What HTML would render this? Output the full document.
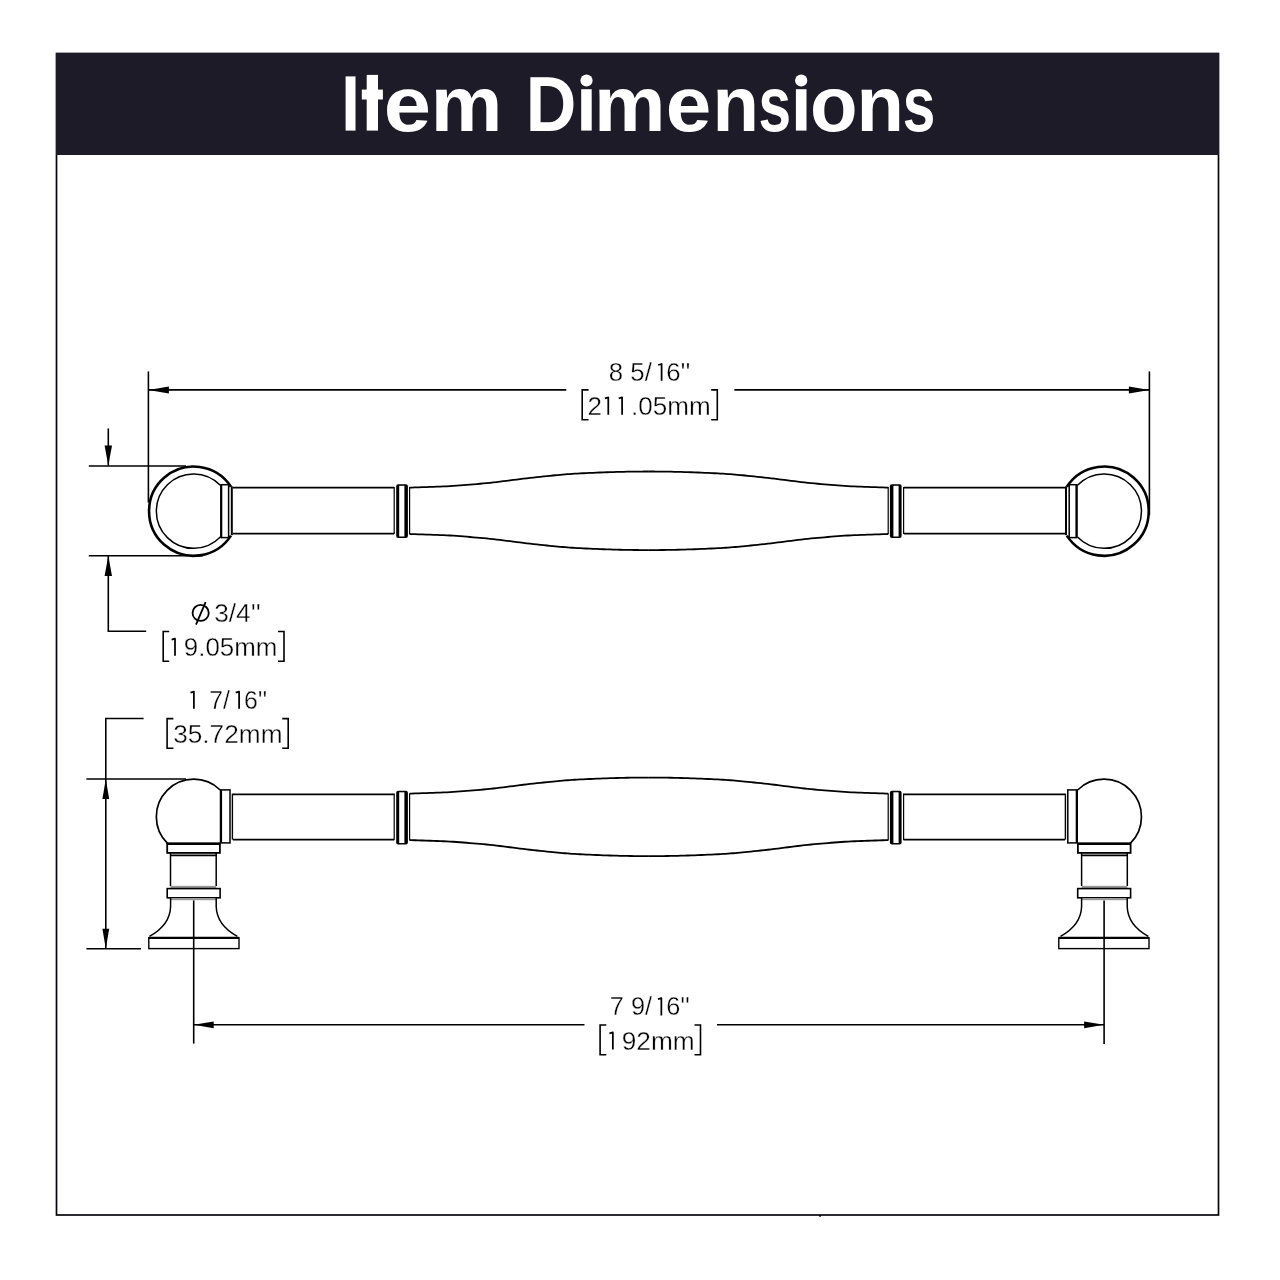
<!DOCTYPE html>
<html><head><meta charset="utf-8">
<style>
html,body{margin:0;padding:0;background:#fff;width:1280px;height:1280px;overflow:hidden}
svg{display:block;will-change:transform}
text{font-family:"Liberation Sans",sans-serif}
</style></head>
<body>
<svg width="1280" height="1280" viewBox="0 0 1280 1280">
<rect x="0" y="0" width="1280" height="1280" fill="#fff"/>
<!-- frame -->
<rect x="56.5" y="53.5" width="1162" height="1161.5" fill="none" stroke="#06060e" stroke-width="1.7"/>
<rect x="56" y="53" width="1163" height="102" fill="#1c1b27"/>
<g fill="#fff" font-weight="bold" font-size="78.6">
<rect x="345.6" y="76.4" width="9.9" height="54.2"/>
<rect x="366.7" y="74.9" width="11.3" height="55.7"/><rect x="361.8" y="89.6" width="21.1" height="9.9"/>
<text x="383.70" y="130.7" textLength="47.28" lengthAdjust="spacingAndGlyphs">e</text>
<text x="430.82" y="130.7" textLength="71.60" lengthAdjust="spacingAndGlyphs">m</text>
<text x="525.73" y="130.7" textLength="50.62" lengthAdjust="spacingAndGlyphs">D</text>
<rect x="581.2" y="89.2" width="10.5" height="41.4"/><circle cx="586.5" cy="80.5" r="6.1"/>
<text x="594.03" y="130.7" textLength="71.49" lengthAdjust="spacingAndGlyphs">m</text>
<text x="665.83" y="130.7" textLength="45.54" lengthAdjust="spacingAndGlyphs">e</text>
<text x="712.43" y="130.7" textLength="46.45" lengthAdjust="spacingAndGlyphs">n</text>
<text x="758.39" y="130.7" textLength="32.56" lengthAdjust="spacingAndGlyphs">s</text>
<rect x="795.9" y="89.2" width="10.6" height="41.4"/><circle cx="801.2" cy="80.5" r="6.1"/>
<text x="809.89" y="130.7" textLength="47.54" lengthAdjust="spacingAndGlyphs">o</text>
<text x="856.52" y="130.7" textLength="47.47" lengthAdjust="spacingAndGlyphs">n</text>
<text x="902.69" y="130.7" textLength="32.56" lengthAdjust="spacingAndGlyphs">s</text>
</g>

<g fill="none" stroke="#000" stroke-linecap="butt">
<defs>
<g id="tvhalf">
  <!-- outer circle arc -->
  <path d="M231,486.8 A44.6,44.6 0 1 0 231,535.6" stroke-width="2.6"/>
  <!-- inner circle arc -->
  <path d="M220.3,485.3 A37.2,37.2 0 1 0 220.3,537" stroke-width="1.5"/>
  <!-- collar -->
  <rect x="221.2" y="484.7" width="7.4" height="52.9" stroke-width="1.5"/>
  <line x1="221.2" y1="484.7" x2="221.2" y2="537.6" stroke-width="2.2"/>
  <line x1="231.8" y1="486.3" x2="231.8" y2="535.2" stroke-width="2"/>
  <!-- bar -->
  <line x1="232.8" y1="487.7" x2="394" y2="487.7" stroke-width="1.8"/>
  <line x1="232.8" y1="533.7" x2="394" y2="533.7" stroke-width="1.8"/>
  <!-- ring -->
  <line x1="394.2" y1="487" x2="394.2" y2="534" stroke-width="1.2"/>
  <rect x="396.2" y="484.3" width="11.7" height="53.7" rx="2" fill="#000" stroke="none"/>
  <rect x="399.2" y="485.8" width="5.2" height="50.7" fill="#fff" stroke="none"/>
  <line x1="409.6" y1="487" x2="409.6" y2="534" stroke-width="1.2"/>
  <!-- taper -->
  <path d="M409.5,487.60 L411.7,487.53 L414.8,487.42 L418.5,487.30 L422.4,487.17 L426.4,487.03 L430.0,486.90 L433.4,486.78 L436.7,486.67 L440.0,486.55 L443.4,486.42 L446.7,486.28 L450.0,486.10 L453.3,485.89 L456.7,485.66 L460.0,485.41 L463.3,485.15 L466.7,484.88 L470.0,484.60 L473.3,484.32 L476.7,484.04 L480.0,483.76 L483.3,483.46 L486.7,483.14 L490.0,482.80 L493.3,482.44 L496.7,482.05 L500.0,481.64 L503.3,481.23 L506.7,480.81 L510.0,480.40 L513.3,479.98 L516.7,479.56 L520.0,479.13 L523.3,478.71 L526.7,478.29 L530.0,477.90 L533.4,477.52 L536.9,477.14 L540.3,476.78 L543.7,476.43 L547.0,476.10 L550.0,475.80 L552.8,475.52 L555.4,475.27 L557.8,475.03 L560.2,474.81 L562.6,474.60 L565.0,474.40 L567.4,474.21 L569.8,474.03 L572.2,473.87 L574.6,473.71 L577.2,473.56 L580.0,473.40 L583.0,473.24 L586.3,473.08 L589.7,472.93 L593.1,472.78 L596.6,472.63 L600.0,472.50 L603.3,472.37 L606.7,472.25 L610.0,472.14 L613.3,472.03 L616.7,471.94 L620.0,471.85 L623.5,471.78 L627.1,471.71 L630.7,471.66 L634.2,471.62 L637.3,471.58 L640.0,471.55 L642.2,471.53 L644.1,471.51 L645.7,471.51 L647.0,471.50 L648.1,471.50 L648.9,471.50" stroke-width="1.8"/>
  <path d="M409.5,534.00 L411.7,534.08 L414.8,534.18 L418.5,534.30 L422.4,534.43 L426.4,534.57 L430.0,534.70 L433.4,534.82 L436.7,534.93 L440.0,535.05 L443.4,535.18 L446.7,535.33 L450.0,535.50 L453.3,535.71 L456.7,535.94 L460.0,536.19 L463.3,536.45 L466.7,536.72 L470.0,537.00 L473.3,537.28 L476.7,537.56 L480.0,537.84 L483.3,538.14 L486.7,538.46 L490.0,538.80 L493.3,539.16 L496.7,539.55 L500.0,539.96 L503.3,540.37 L506.7,540.79 L510.0,541.20 L513.3,541.62 L516.7,542.04 L520.0,542.47 L523.3,542.89 L526.7,543.31 L530.0,543.70 L533.4,544.08 L536.9,544.46 L540.3,544.82 L543.7,545.17 L547.0,545.50 L550.0,545.80 L552.8,546.08 L555.4,546.33 L557.8,546.57 L560.2,546.79 L562.6,547.00 L565.0,547.20 L567.4,547.39 L569.8,547.57 L572.2,547.73 L574.6,547.89 L577.2,548.04 L580.0,548.20 L583.0,548.36 L586.3,548.52 L589.7,548.67 L593.1,548.82 L596.6,548.97 L600.0,549.10 L603.3,549.23 L606.7,549.35 L610.0,549.46 L613.3,549.57 L616.7,549.66 L620.0,549.75 L623.5,549.82 L627.1,549.89 L630.7,549.94 L634.2,549.98 L637.3,550.02 L640.0,550.05 L642.2,550.07 L644.1,550.09 L645.7,550.09 L647.0,550.10 L648.1,550.10 L648.9,550.10" stroke-width="1.8"/>
</g>
<g id="svhalf">
  <!-- ball -->
  <path d="M220.2,790 A37.3,37.3 0 1 0 167.5,843.4" stroke-width="1.7"/>
  <!-- side collar -->
  <rect x="220.6" y="789.9" width="9.4" height="53" stroke-width="1.5"/>
  <line x1="221" y1="789.9" x2="221" y2="842.9" stroke-width="2.2"/>
  <line x1="232.4" y1="793.6" x2="232.4" y2="839.6" stroke-width="1.4"/>
  <!-- bar -->
  <line x1="232.8" y1="794.3" x2="394" y2="794.3" stroke-width="1.8"/>
  <line x1="232.8" y1="839.6" x2="394" y2="839.6" stroke-width="1.8"/>
  <!-- ring -->
  <line x1="394.2" y1="793.6" x2="394.2" y2="840.3" stroke-width="1.2"/>
  <rect x="396.2" y="790.8" width="11.7" height="53.7" rx="2" fill="#000" stroke="none"/>
  <rect x="399.2" y="792.3" width="5.2" height="50.7" fill="#fff" stroke="none"/>
  <line x1="409.6" y1="793.6" x2="409.6" y2="840.3" stroke-width="1.2"/>
  <!-- taper -->
  <path d="M409.5,793.65 L411.7,793.58 L414.8,793.47 L418.5,793.35 L422.4,793.22 L426.4,793.08 L430.0,792.95 L433.4,792.83 L436.7,792.72 L440.0,792.60 L443.4,792.47 L446.7,792.33 L450.0,792.15 L453.3,791.94 L456.7,791.71 L460.0,791.46 L463.3,791.20 L466.7,790.93 L470.0,790.65 L473.3,790.37 L476.7,790.09 L480.0,789.81 L483.3,789.51 L486.7,789.19 L490.0,788.85 L493.3,788.49 L496.7,788.10 L500.0,787.69 L503.3,787.28 L506.7,786.86 L510.0,786.45 L513.3,786.03 L516.7,785.61 L520.0,785.18 L523.3,784.76 L526.7,784.34 L530.0,783.95 L533.4,783.57 L536.9,783.19 L540.3,782.83 L543.7,782.48 L547.0,782.15 L550.0,781.85 L552.8,781.57 L555.4,781.32 L557.8,781.08 L560.2,780.86 L562.6,780.65 L565.0,780.45 L567.4,780.26 L569.8,780.08 L572.2,779.92 L574.6,779.76 L577.2,779.61 L580.0,779.45 L583.0,779.29 L586.3,779.13 L589.7,778.98 L593.1,778.83 L596.6,778.68 L600.0,778.55 L603.3,778.42 L606.7,778.30 L610.0,778.19 L613.3,778.08 L616.7,777.99 L620.0,777.90 L623.5,777.83 L627.1,777.76 L630.7,777.71 L634.2,777.67 L637.3,777.63 L640.0,777.60 L642.2,777.58 L644.1,777.56 L645.7,777.56 L647.0,777.55 L648.1,777.55 L648.9,777.55" stroke-width="1.8"/>
  <path d="M409.5,840.05 L411.7,840.12 L414.8,840.23 L418.5,840.35 L422.4,840.48 L426.4,840.62 L430.0,840.75 L433.4,840.87 L436.7,840.98 L440.0,841.10 L443.4,841.23 L446.7,841.38 L450.0,841.55 L453.3,841.76 L456.7,841.99 L460.0,842.24 L463.3,842.50 L466.7,842.77 L470.0,843.05 L473.3,843.33 L476.7,843.61 L480.0,843.89 L483.3,844.19 L486.7,844.51 L490.0,844.85 L493.3,845.21 L496.7,845.60 L500.0,846.01 L503.3,846.42 L506.7,846.84 L510.0,847.25 L513.3,847.67 L516.7,848.09 L520.0,848.52 L523.3,848.94 L526.7,849.36 L530.0,849.75 L533.4,850.13 L536.9,850.51 L540.3,850.87 L543.7,851.22 L547.0,851.55 L550.0,851.85 L552.8,852.13 L555.4,852.38 L557.8,852.62 L560.2,852.84 L562.6,853.05 L565.0,853.25 L567.4,853.44 L569.8,853.62 L572.2,853.78 L574.6,853.94 L577.2,854.09 L580.0,854.25 L583.0,854.41 L586.3,854.57 L589.7,854.72 L593.1,854.87 L596.6,855.02 L600.0,855.15 L603.3,855.28 L606.7,855.40 L610.0,855.51 L613.3,855.62 L616.7,855.71 L620.0,855.80 L623.5,855.87 L627.1,855.94 L630.7,855.99 L634.2,856.03 L637.3,856.07 L640.0,856.10 L642.2,856.12 L644.1,856.14 L645.7,856.14 L647.0,856.15 L648.1,856.15 L648.9,856.15" stroke-width="1.8"/>
  <!-- post collar 1 -->
  <rect x="167.2" y="843.6" width="52.7" height="9.3" stroke-width="1.8"/>
  <line x1="167.2" y1="843.8" x2="220" y2="843.8" stroke-width="2.4"/>
  <line x1="170.5" y1="855.4" x2="216.5" y2="855.4" stroke-width="1.8"/>
  <!-- shaft -->
  <line x1="170.5" y1="853" x2="170.5" y2="886" stroke-width="1.5"/>
  <line x1="216.2" y1="853" x2="216.2" y2="886" stroke-width="1.5"/>
  <rect x="170.5" y="885.8" width="45.7" height="2.4" fill="#999" stroke="none"/>
  <!-- post collar 2 -->
  <rect x="167.2" y="888.6" width="52.9" height="9.2" stroke-width="1.6"/>
  <rect x="170.5" y="898" width="45.7" height="2.2" fill="#999" stroke="none"/>
  <!-- flare -->
  <path d="M170.6,898 L170.6,906.5 C170.2,921 161,930 149.5,936.4" stroke-width="1.5"/>
  <path d="M216.2,898 L216.2,906.5 C216.6,921 225.8,930 237.3,936.4" stroke-width="1.5"/>
  <!-- base plate -->
  <rect x="148.8" y="937.8" width="90.2" height="10.8" stroke-width="1.4"/>
  <line x1="148.8" y1="937.9" x2="239" y2="937.9" stroke-width="2.2"/>
</g>
</defs>
<use href="#tvhalf"/>
<use href="#tvhalf" transform="translate(1297.8,0) scale(-1,1)"/>
<use href="#svhalf"/>
<use href="#svhalf" transform="translate(1297.8,0) scale(-1,1)"/>

<!-- TV dimensions -->
<g stroke-width="1.6">
  <line x1="148.4" y1="371.4" x2="148.4" y2="502.5"/>
  <line x1="1149.4" y1="371.4" x2="1149.4" y2="515"/>
  <line x1="148.4" y1="389.9" x2="566.3" y2="389.9"/>
  <line x1="734.4" y1="389.9" x2="1149.4" y2="389.9"/>
  <line x1="88.8" y1="466" x2="186" y2="466"/>
  <line x1="88.8" y1="555.8" x2="202.8" y2="555.8"/>
  <line x1="108.3" y1="428.4" x2="108.3" y2="465.7"/>
  <polyline points="108.3,555.8 108.3,631.2 146.2,631.2"/>
  <!-- SV dims -->
  <polyline points="143.6,718.5 105.8,718.5 105.8,948.7"/>
  <line x1="86.4" y1="779" x2="186" y2="779"/>
  <line x1="86.4" y1="948.7" x2="141" y2="948.7"/>
  <line x1="193.7" y1="900.4" x2="193.7" y2="1043.6"/>
  <line x1="1104.1" y1="900.4" x2="1104.1" y2="1044"/>
  <line x1="193.7" y1="1024.8" x2="584.5" y2="1024.8"/>
  <line x1="717" y1="1024.8" x2="1104.1" y2="1024.8"/>
</g>
</g>
<rect x="819.3" y="1215" width="1.6" height="1.8" fill="#000"/>
<g fill="none" stroke="#000" stroke-width="1.75" stroke-linejoin="round">
<path d="M604.90,398.40 L608.30,397.40 V414.70"/>
<path d="M618.70,398.40 L622.10,397.40 V414.70"/>
<path d="M658.20,365.00 L661.60,364.00 V380.80"/>
<path d="M235.70,692.70 L239.10,691.70 V708.80"/>
<path d="M657.95,999.10 L661.35,998.10 V1015.40"/>
<path d="M609.45,1033.40 L612.85,1032.40 V1049.60"/>
<path d="M171.60,639.70 L175.00,638.70 V655.70"/>
<path d="M190.50,692.70 L193.90,691.70 V708.80"/>
</g>
<!-- arrowheads -->
<g fill="#000" stroke="none">
  <polygon points="148.4,389.9 168.9,386.4 168.9,393.4"/>
  <polygon points="1149.4,389.9 1128.9,386.4 1128.9,393.4"/>
  <polygon points="108.3,465.7 104.6,445.5 112,445.5"/>
  <polygon points="108.3,555.8 104.6,576 112,576"/>
  <polygon points="105.8,779 102.4,799 109.2,799"/>
  <polygon points="105.8,948.7 102.4,928.7 109.2,928.7"/>
  <polygon points="193.7,1024.8 213.7,1021.4 213.7,1028.2"/>
  <polygon points="1104.1,1024.8 1084.1,1021.4 1084.1,1028.2"/>
</g>
<!-- dimension text -->
<g fill="#000" stroke="#fff" stroke-width="0.35">
<text x="608.87" y="380.8" font-size="25.3" textLength="81.53" lengthAdjust="spacingAndGlyphs">8 5/&#8199;6&#39;&#39;</text>
<text x="587.62" y="414.7" font-size="25.3" textLength="123.14" lengthAdjust="spacingAndGlyphs">2&#8199;&#8199;.05mm</text>
<text x="214.15" y="621.7" font-size="25.3" textLength="46.62" lengthAdjust="spacingAndGlyphs">3/4&#39;&#39;</text>
<text x="169.43" y="655.7" font-size="25.3" textLength="108.04" lengthAdjust="spacingAndGlyphs">&#8199;9.05mm</text>
<text x="188.51" y="708.8" font-size="25.3" textLength="78.74" lengthAdjust="spacingAndGlyphs">&#8199; 7/&#8199;6&#39;&#39;</text>
<text x="173.15" y="742.7" font-size="25.3" textLength="109.34" lengthAdjust="spacingAndGlyphs">35.72mm</text>
<text x="609.78" y="1015.4" font-size="25.3" textLength="80.19" lengthAdjust="spacingAndGlyphs">7 9/&#8199;6&#39;&#39;</text>
<text x="607.10" y="1049.6" font-size="25.3" textLength="87.54" lengthAdjust="spacingAndGlyphs">&#8199;92mm</text>
</g>
<g fill="none" stroke="#000" stroke-width="1.6">
<path d="M588.6,389.9 H582.2 V419.75 H588.6"/>
<path d="M711.2,389.9 H717.3 V419.75 H711.2"/>
<path d="M169.2,631.5 H163.2 V661.2 H169.2"/>
<path d="M278,631.5 H284 V661.2 H278"/>
<path d="M173.4,718.6 H167.1 V748.3 H173.4"/>
<path d="M282.2,718.6 H288.2 V748.3 H282.2"/>
<path d="M606.3,1025 H600.1 V1054.7 H606.3"/>
<path d="M694.5,1025 H700.5 V1054.7 H694.5"/>
<ellipse cx="200.65" cy="612.9" rx="8.1" ry="8" stroke-width="1.8"/>
<line x1="196" y1="624.6" x2="205.6" y2="602.1" stroke-width="1.8"/>
</g>
</svg>
</body></html>
